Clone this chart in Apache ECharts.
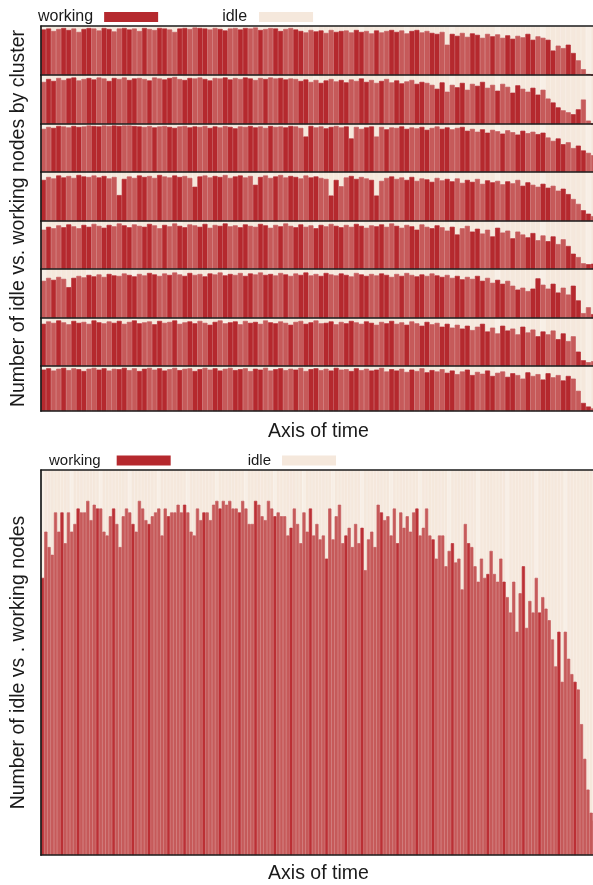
<!DOCTYPE html>
<html><head><meta charset="utf-8">
<script src="https://cdn.jsdelivr.net/npm/echarts@6/dist/echarts.min.js"></script>
<style>html,body{margin:0;padding:0;background:#fff}#c{width:593px;height:885px}</style>
</head><body><div id="c"></div>
<script>
// ---------- data (share of nodes working, % of capacity, per time step) ----------
const seriesNames = ['working', 'idle'];
const capacity = 100;
const cluster1 = [93,95,90,94,96,92,95,88,94,96, 95,91,96,94,89,95,96,93,95,90, 96,94,92,96,95,93,88,95,96,94, 97,96,95,93,96,94,91,95,96,93, 96,95,97,92,94,96,95,90,94,96, 93,90,87,92,89,91,86,92,88,90, 91,87,92,88,90,85,91,87,90,92, 88,91,85,90,92,87,90,86,84,88, 62,84,80,86,78,85,82,76,84,79, 83,76,81,74,80,77,84,72,79,76, 72,50,60,55,62,45,30,12,2,0];
const cluster2 = [86,92,88,94,90,93,95,89,92,94, 91,95,93,88,94,92,95,90,93,94, 92,89,95,93,91,94,96,92,90,94, 93,95,92,89,94,93,95,91,94,92, 95,93,90,94,92,95,93,94,91,93, 92,88,91,86,90,84,89,92,87,90, 85,91,88,93,86,90,84,88,92,85, 89,83,87,90,82,86,84,80,72,85, 66,80,75,84,70,82,78,86,74,80, 68,82,76,64,79,72,66,74,60,70, 52,44,34,28,24,20,30,50,7,0];
const cluster3 = [90,94,92,96,95,93,96,94,95,97, 96,95,97,96,97,96,97,97,96,95, 94,96,93,95,96,94,92,95,96,93, 95,94,96,92,95,93,96,94,91,95, 94,96,93,95,92,96,94,95,93,96, 95,92,74,96,93,95,91,94,96,93, 95,70,94,90,93,95,74,94,89,93, 92,95,90,93,91,94,88,92,95,90, 93,89,92,94,86,90,84,89,82,88, 85,80,87,83,78,86,81,84,79,82, 72,65,70,58,62,50,55,45,40,35];
const cluster4 = [84,90,87,93,89,92,88,94,91,90, 93,89,92,87,90,53,86,91,88,93, 90,92,88,94,91,89,93,90,92,88, 70,91,93,89,92,90,94,88,91,93, 89,92,74,90,93,88,91,94,89,92, 90,87,93,89,91,88,86,52,84,71, 89,92,86,90,87,84,52,82,88,91, 86,89,84,90,82,87,85,80,88,83, 86,81,87,78,84,80,86,76,83,79, 82,75,81,77,84,72,79,74,70,76, 68,72,62,66,55,45,35,22,15,10];
const cluster5 = [82,88,85,91,87,93,89,85,92,88, 94,90,86,92,89,95,91,87,93,90, 88,94,91,85,92,89,95,90,87,93, 91,88,94,86,92,90,95,89,91,87, 93,90,88,94,91,86,92,89,95,90, 87,93,88,91,85,92,89,94,90,87, 92,88,94,90,86,91,89,93,88,95, 90,86,92,89,82,93,88,85,91,87, 80,88,72,85,90,78,84,74,82,68, 86,76,80,64,78,72,66,75,60,70, 58,68,52,62,48,32,25,12,10,11];
const cluster6 = [76,82,78,84,80,63,82,86,83,88, 85,89,84,90,87,86,91,88,85,90, 87,92,89,86,91,88,93,89,86,92, 88,90,85,91,89,93,87,90,88,92, 86,91,89,93,88,90,87,92,89,86, 91,88,93,87,90,86,92,89,87,91, 88,85,92,89,86,90,87,91,88,84, 90,86,92,88,85,89,86,91,87,84, 88,82,86,79,84,80,86,76,82,72, 78,70,76,66,58,62,55,60,81,68, 60,70,52,62,48,66,36,10,22,8];
const cluster7 = [88,93,90,95,91,87,94,90,92,88, 95,91,89,93,90,94,88,92,95,89, 91,93,87,94,90,92,95,88,91,93, 89,94,90,86,92,95,89,91,93,87, 94,90,92,88,95,91,89,93,90,86, 92,94,88,91,95,89,90,93,87,92, 89,94,91,88,93,90,86,92,89,94, 88,91,86,93,89,84,92,87,90,82, 88,80,86,78,84,75,82,88,72,80, 68,84,74,78,66,82,70,76,62,72, 66,74,56,68,52,62,30,12,8,10];
const cluster8 = [92,95,90,94,96,91,95,93,89,94, 96,92,95,90,94,93,96,91,95,89, 94,96,92,95,90,93,96,91,94,95, 89,93,96,92,95,90,94,96,91,93, 95,89,94,92,96,90,93,95,91,94, 92,96,89,93,95,91,94,90,96,92, 93,89,95,91,94,90,92,96,88,93, 90,94,87,92,89,95,86,91,88,93, 85,90,82,88,92,80,87,83,90,78, 85,88,76,84,80,72,86,78,82,70, 84,75,80,68,78,72,45,18,10,6];
const aggregate = [72,84,80,78,89,84,89,81,89,84, 86,90,89,89,92,87,91,90,90,84, 83,88,90,86,80,88,90,89,86,84, 92,90,87,86,88,89,90,83,90,88, 89,89,91,89,91,89,84,83,90,87, 89,89,87,91,92,90,92,91,92,90, 90,89,92,90,86,86,92,91,88,87, 92,90,88,89,88,88,83,85,90,86, 81,89,84,90,83,
  86,82,83,77,90,82,88,91,81,83, 85,80,86,81,85,74,82,84,80,91, 89,87,88,83,90,81,89,85,88,84, 89,90,83,85,90,83,82,77,83,83, 75,79,81,76,77,69,86,81,80,75, 71,77,72,73,79,73,71,77,71,67, 63,71,58,68,75,59,66,63,72,63, 67,64,61,56,49,58,45,58,51,47, 45,43,34,25,17,11,9];
const clusters = [cluster1, cluster2, cluster3, cluster4, cluster5, cluster6, cluster7, cluster8];

// ---------- layout & style ----------
const FONT = '"Liberation Sans", Arial, Helvetica, sans-serif';
const INK = '#1a1a1a';
const DARK = '#b5292e', LIGHT = '#c65a5a', IDLE = '#f5e8dc', IDLE2 = '#f8efe6';
const AGG_LIGHT = '#c65a5a', AGG_DARK = '#bb3035';
const rowEdges = [26, 75, 124, 172, 221, 269, 318, 366, 411];
const lineStyle = {color: INK, width: 1.7};
const BAR_W = '100%';
function shadeCluster(i, k) { return ((i * 29 + k * 17) % 23) < 11 ? DARK : LIGHT; }
function shadeAgg(i) { return ((i * 13) % 11) < 2 ? AGG_DARK : AGG_LIGHT; }
function shadeIdle(i) { return ((i * 7) % 9) === 0 ? IDLE2 : IDLE; }
function fill(c) { return {color: c, borderColor: c, borderWidth: 0.7}; }

const grids = [], xAxes = [], yAxes = [], series = [];
function hiddenBits() { return {axisTick: {show: false}, axisLabel: {show: false}, splitLine: {show: false}}; }
const titleStyle = {fontSize: 19.5, color: INK, fontFamily: FONT};

clusters.forEach((vals, k) => {
  grids.push({left: 41, right: -3, top: rowEdges[k], height: rowEdges[k + 1] - rowEdges[k], outerBoundsMode: 'none'});
  xAxes.push(Object.assign({gridIndex: k, type: 'category', position: 'bottom', axisLine: {show: true, lineStyle}, z: 10}, hiddenBits()));
  yAxes.push(Object.assign({gridIndex: k, type: 'value', min: 0, max: capacity, axisLine: {show: true, lineStyle}, z: 10}, hiddenBits()));
  const xi = xAxes.length - 1, yi = yAxes.length - 1;
  series.push({name: seriesNames[0], type: 'bar', xAxisIndex: xi, yAxisIndex: yi, stack: 'c' + k, barWidth: BAR_W, z: 3,
    itemStyle: {color: DARK}, data: vals.map((v, i) => ({value: v, itemStyle: fill(shadeCluster(i, k))}))});
  series.push({name: seriesNames[1], type: 'bar', xAxisIndex: xi, yAxisIndex: yi, stack: 'c' + k, barWidth: BAR_W, z: 2,
    itemStyle: {color: IDLE}, data: vals.map((v, i) => ({value: capacity - v, itemStyle: fill(shadeIdle(i))}))});
});
// top border of first cluster row
xAxes.push(Object.assign({gridIndex: 0, type: 'category', position: 'top', data: cluster1.map((_, i) => i), axisLine: {show: true, lineStyle}, z: 10}, hiddenBits()));

// frame grid for top panel titles
const fg = grids.length;
grids.push({left: 41, right: -3, top: 26, height: 385, outerBoundsMode: 'none'});
xAxes.push(Object.assign({gridIndex: fg, type: 'value', axisLine: {show: false}, name: 'Axis of time', nameLocation: 'middle', nameGap: 11,
  nameTextStyle: titleStyle}, hiddenBits()));
yAxes.push(Object.assign({gridIndex: fg, type: 'value', axisLine: {show: false}, name: 'Number of idle vs. working nodes by cluster', nameLocation: 'middle', nameGap: 12,
  nameTextStyle: titleStyle}, hiddenBits()));

// bottom aggregate panel
const bg = grids.length;
grids.push({left: 41, right: -3, top: 470, height: 385, outerBoundsMode: 'none'});
xAxes.push(Object.assign({gridIndex: bg, type: 'category', position: 'bottom', axisLine: {show: true, lineStyle}, z: 10, name: 'Axis of time', nameLocation: 'middle', nameGap: 9,
  nameTextStyle: titleStyle}, hiddenBits()));
const bxi = xAxes.length - 1;
xAxes.push(Object.assign({gridIndex: bg, type: 'category', position: 'top', data: aggregate.map((_, i) => i), axisLine: {show: true, lineStyle}, z: 10}, hiddenBits()));
yAxes.push(Object.assign({gridIndex: bg, type: 'value', min: 0, max: capacity, axisLine: {show: true, lineStyle}, z: 10, name: 'Number of idle vs . working nodes', nameLocation: 'middle', nameGap: 12,
  nameTextStyle: titleStyle}, hiddenBits()));
const byi = yAxes.length - 1;
series.push({name: seriesNames[0], type: 'bar', xAxisIndex: bxi, yAxisIndex: byi, stack: 'agg', barWidth: BAR_W, z: 3,
  itemStyle: {color: DARK}, data: aggregate.map((v, i) => ({value: v, itemStyle: fill(shadeAgg(i))}))});
series.push({name: seriesNames[1], type: 'bar', xAxisIndex: bxi, yAxisIndex: byi, stack: 'agg', barWidth: BAR_W, z: 2,
  itemStyle: {color: IDLE}, data: aggregate.map((v, i) => ({value: capacity - v, itemStyle: fill(shadeIdle(i))}))});

const legendBase = {orient: 'horizontal', align: 'right', icon: 'rect', itemWidth: 54, itemHeight: 10, padding: 0, selectedMode: false};
function legendItems(fs, padW, padI) {
  return [
    {name: seriesNames[0], itemStyle: {color: DARK, borderWidth: 0}, textStyle: {fontSize: fs, color: INK, fontFamily: FONT, padding: [0, padW, 0, 0]}},
    {name: seriesNames[1], itemStyle: {color: IDLE, borderWidth: 0}, textStyle: {fontSize: fs, color: INK, fontFamily: FONT, padding: [0, padI, 0, 0]}}
  ];
}
const chart = echarts.init(document.getElementById('c'), null, {renderer: 'canvas'});
chart.setOption({
  animation: false,
  backgroundColor: '#ffffff',
  textStyle: {fontFamily: FONT},
  legend: [
    Object.assign({}, legendBase, {left: 38, top: 9, itemGap: 64, data: legendItems(16, 6, 7),
      textStyle: {fontSize: 16, color: INK, fontFamily: FONT}}),
    Object.assign({}, legendBase, {left: 49, top: 453, itemGap: 77, data: legendItems(15, 11, 6),
      textStyle: {fontSize: 15, color: INK, fontFamily: FONT}})
  ],
  grid: grids, xAxis: xAxes, yAxis: yAxes, series: series
});
</script></body></html>
